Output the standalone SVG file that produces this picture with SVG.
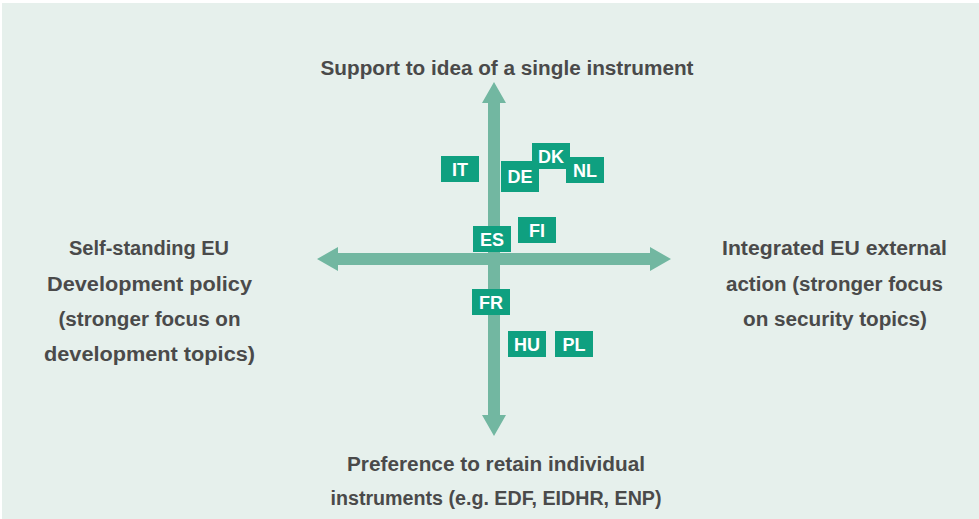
<svg xmlns="http://www.w3.org/2000/svg" width="979" height="519" viewBox="0 0 979 519">
<style>
.bg{fill:#E6F0EC}
.axis{fill:#72B7A1}
.box{fill:#0FA080}
.bt{font-family:"Liberation Sans","DejaVu Sans",sans-serif;font-weight:bold;font-size:18px;fill:#FFFFFF;text-anchor:middle}
.lbl{font-family:"Liberation Sans","DejaVu Sans",sans-serif;font-weight:bold;font-size:20px;fill:#4A4A4A;text-anchor:middle}
</style>
<rect x="0" y="0" width="979" height="519" fill="#FFFFFF"/>
<rect class="bg" x="2" y="3" width="977" height="516"/>
<g id="connectors">
<polygon class="axis" points="494,82 506,103 500,103 500,415 506,415 494,436 482,415 488,415 488,103 482,103"/>
<polygon class="axis" points="317,259 338,247 338,253 650,253 650,247 671,259 650,271 650,265 338,265 338,271"/>
</g>
<g id="label-top"><text class="lbl" x="507" y="75" textLength="373" lengthAdjust="spacingAndGlyphs">Support to idea of a single instrument</text></g>
<g id="label-left">
<text class="lbl" x="149" y="255" textLength="160" lengthAdjust="spacingAndGlyphs">Self-standing EU</text>
<text class="lbl" x="149.5" y="291" textLength="205" lengthAdjust="spacingAndGlyphs">Development policy</text>
<text class="lbl" x="149.5" y="326" textLength="182" lengthAdjust="spacingAndGlyphs">(stronger focus on</text>
<text class="lbl" x="149.5" y="361" textLength="211" lengthAdjust="spacingAndGlyphs">development topics)</text>
</g>
<g id="label-right">
<text class="lbl" x="834.5" y="255" textLength="225" lengthAdjust="spacingAndGlyphs">Integrated EU external</text>
<text class="lbl" x="834.5" y="291" textLength="217" lengthAdjust="spacingAndGlyphs">action (stronger focus</text>
<text class="lbl" x="835" y="326" textLength="184" lengthAdjust="spacingAndGlyphs">on security topics)</text>
</g>
<g id="label-bottom">
<text class="lbl" x="496" y="471" textLength="298" lengthAdjust="spacingAndGlyphs">Preference to retain individual</text>
<text class="lbl" x="496" y="505" textLength="331" lengthAdjust="spacingAndGlyphs">instruments (e.g. EDF, EIDHR, ENP)</text>
</g>
<g id="IT"><rect class="box" x="441" y="156" width="38" height="26"/><text class="bt" x="460" y="175.5">IT</text></g>
<g id="DK"><rect class="box" x="532" y="143" width="38" height="26"/><text class="bt" x="551" y="162.5">DK</text></g>
<g id="DE"><rect class="box" x="501" y="161" width="38" height="31"/><text class="bt" x="520" y="183">DE</text></g>
<g id="NL"><rect class="box" x="566" y="157" width="38" height="26"/><text class="bt" x="585" y="176.5">NL</text></g>
<g id="ES"><rect class="box" x="473" y="226" width="38" height="26"/><text class="bt" x="492" y="245.5">ES</text></g>
<g id="FI"><rect class="box" x="518" y="217" width="38" height="26"/><text class="bt" x="537" y="236.5">FI</text></g>
<g id="FR"><rect class="box" x="472" y="289" width="38" height="26"/><text class="bt" x="491" y="308.5">FR</text></g>
<g id="HU"><rect class="box" x="508" y="331" width="38" height="26"/><text class="bt" x="527" y="350.5">HU</text></g>
<g id="PL"><rect class="box" x="555" y="331" width="38" height="26"/><text class="bt" x="574" y="350.5">PL</text></g>
</svg>
